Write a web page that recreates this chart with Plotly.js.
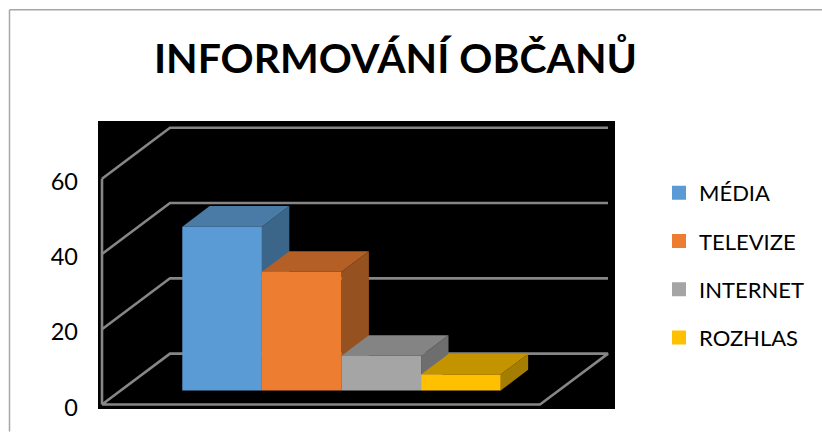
<!DOCTYPE html>
<html>
<head>
<meta charset="utf-8">
<script src="https://cdn.plot.ly/plotly-3.0.1.min.js"></script>
<style>html,body{margin:0;padding:0;background:#fff}#chart{width:822px;height:432px}</style>
</head>
<body>
<div id="chart"></div>
<script>
const seriesNames = ["MÉDIA", "TELEVIZE", "INTERNET", "ROZHLAS"];
const seriesValues = [43, 31, 8.7, 3.7];
const frontColors = ["#5B9BD5", "#ED7D31", "#A5A5A5", "#FFC000"];
const topColors = ["#4A7BA7", "#B45F26", "#848484", "#C39400"];
const sideColors = ["#3C6689", "#95511F", "#6E6E6E", "#A57D00"];
const tickValues = [0, 20, 40, 60];
const chartTitle = "INFORMOVÁNÍ OBČANŮ";

// Plot frame and oblique-projection settings
const W = 822, H = 432;
const plot = {l: 98, r: 615, t: 121, b: 409.5};
const pxPerValue = 3.77, pxPerBar = 79.6;
const zeroPx = 405, firstBarPx = 182.3;
const xRange = [(plot.l - firstBarPx) / pxPerBar, (plot.r - firstBarPx) / pxPerBar];
const yRange = [(zeroPx - plot.b) / pxPerValue, (zeroPx - plot.t) / pxPerValue];
const fx = px => (px - firstBarPx) / pxPerBar;
const wallLeft = fx(102), wallRight = fx(540);
const wallDX = 68 / pxPerBar, wallDY = 51 / pxPerValue;
const barDX = 27.4 / pxPerBar, barDY = 20.7 / pxPerValue;
const barBase = (zeroPx - 390) / pxPerValue;
const outline = 2;
const halfLine = (outline / 2) / pxPerValue;
const labelDrop = 3 / pxPerValue;
const lineColor = "#868686";
const font = "Lato, Carlito, Calibri, sans-serif";

const traces = [];
const poly = (x, y, color) => traces.push({
  type: "scatter", mode: "lines", x, y, fill: "toself", fillcolor: color,
  line: {width: 0, color}, hoverinfo: "skip", showlegend: false
});
const wire = (x, y) => traces.push({
  type: "scatter", mode: "lines", x, y,
  line: {width: 2.6, color: lineColor}, hoverinfo: "skip", showlegend: false
});

tickValues.forEach(t => {
  const xs = [wallLeft, wallLeft + wallDX, wallRight + wallDX];
  const ys = [t, t + wallDY, t + wallDY];
  if (t === 0) { xs.push(wallRight, wallLeft); ys.push(0, 0); }
  wire(xs, ys);
});
wire([wallLeft, wallLeft], [0, tickValues[tickValues.length - 1]]);

seriesValues.forEach((v, i) => {
  const x0 = i, x1 = i + 1, yb = barBase - halfLine, yt = barBase + v + halfLine;
  poly([x1, x1 + barDX, x1 + barDX, x1, x1], [yb, yb + barDY, yt + barDY, yt, yb], sideColors[i]);
  poly([x0, x1, x1 + barDX, x0 + barDX, x0], [yt, yt, yt + barDY, yt + barDY, yt], topColors[i]);
});

seriesValues.forEach((v, i) => traces.push({
  type: "bar", name: seriesNames[i], x: [i + 0.5], y: [v], base: [barBase],
  width: [1 - outline / pxPerBar], xaxis: "x2", yaxis: "y2",
  marker: {color: frontColors[i], line: {color: frontColors[i], width: outline}},
  legendgroup: seriesNames[i], hovertemplate: "%{fullData.name}: %{y}<extra></extra>"
}));

const pw = plot.r - plot.l, ph = plot.b - plot.t;
const border = "#A6A6A6";
const layout = {
  width: W, height: H, autosize: false,
  margin: {l: plot.l, r: W - plot.r, t: plot.t, b: H - plot.b, pad: 0},
  paper_bgcolor: "#FFFFFF", plot_bgcolor: "#000000",
  barmode: "overlay",
  title: {
    text: "<b>" + chartTitle + "</b>", font: {family: font, size: 41, color: "#000000"},
    xref: "container", yref: "container", x: 395.5 / W, xanchor: "center",
    y: 1 - 59 / H, yanchor: "middle"
  },
  xaxis: {range: xRange, visible: false, fixedrange: true},
  yaxis: {
    range: yRange, tickvals: tickValues.map(t => t - labelDrop), ticktext: tickValues.map(String),
    showgrid: false, zeroline: false, showline: false, ticks: "",
    ticklabelstandoff: 19, tickfont: {family: font, size: 23.5, color: "#000000"}, fixedrange: true
  },
  xaxis2: {range: xRange, overlaying: "x", visible: false, fixedrange: true},
  yaxis2: {range: yRange, overlaying: "y", visible: false, fixedrange: true},
  showlegend: true,
  legend: {
    x: (659 - plot.l) / pw, xanchor: "left", y: 1 - (172 - plot.t) / ph, yanchor: "top",
    traceorder: "grouped", tracegroupgap: 16.7, bgcolor: "rgba(0,0,0,0)",
    font: {family: font, size: 22, color: "#000000"}, itemclick: false, itemdoubleclick: false
  },
  shapes: [
    {type: "line", xref: "paper", yref: "paper", layer: "above", line: {color: border, width: 1.5},
     x0: (9.5 - plot.l) / pw, x1: (W - plot.l) / pw, y0: 1 - (9.5 - plot.t) / ph, y1: 1 - (9.5 - plot.t) / ph},
    {type: "line", xref: "paper", yref: "paper", layer: "above", line: {color: border, width: 1.5},
     x0: (9.5 - plot.l) / pw, x1: (9.5 - plot.l) / pw, y0: 1 - (9.5 - plot.t) / ph, y1: 1 - (H - plot.t) / ph}
  ]
};
Plotly.newPlot("chart", traces, layout, {displayModeBar: false, responsive: false});
</script>
</body>
</html>
